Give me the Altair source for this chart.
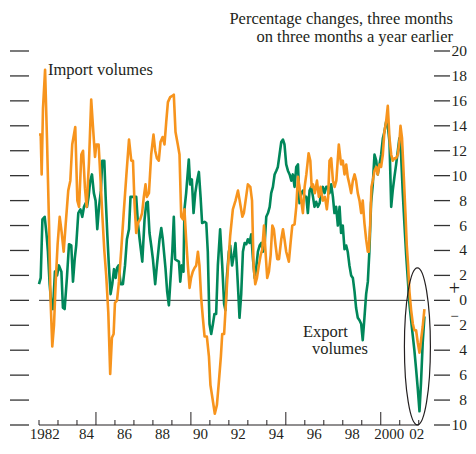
import altair as alt
import pandas as pd

# ---------------- data ----------------
import_t = [
    1982.00, 1982.09, 1982.14, 1982.21, 1982.32, 1982.42, 1982.53, 1982.61, 1982.70, 1982.79, 1982.88, 1982.98,
    1983.09, 1983.19, 1983.30, 1983.40, 1983.54, 1983.65, 1983.75, 1983.91,
    1984.02, 1984.11, 1984.23, 1984.32, 1984.42, 1984.51, 1984.63, 1984.75, 1984.84, 1984.95,
    1985.02, 1985.14, 1985.23, 1985.33, 1985.44, 1985.54, 1985.65, 1985.75, 1985.84, 1985.93,
    1986.00, 1986.11, 1986.21, 1986.33, 1986.46, 1986.60, 1986.74, 1986.86, 1986.95,
    1987.03, 1987.12, 1987.21, 1987.33, 1987.43, 1987.52, 1987.61, 1987.68, 1987.79, 1987.91,
    1988.03, 1988.12, 1988.21, 1988.31, 1988.40, 1988.51, 1988.61, 1988.70, 1988.79, 1988.91,
    1989.02, 1989.10, 1989.19, 1989.31, 1989.40, 1989.49, 1989.58, 1989.66, 1989.75, 1989.84, 1989.93,
    1990.01, 1990.10, 1990.19, 1990.28, 1990.37, 1990.45, 1990.54, 1990.63, 1990.72, 1990.84, 1990.95,
    1991.03, 1991.16, 1991.26, 1991.37, 1991.47, 1991.58, 1991.65, 1991.75, 1991.86, 1991.96,
    1992.07, 1992.21, 1992.35, 1992.48, 1992.57, 1992.71, 1992.79,
    1993.00, 1993.13, 1993.22, 1993.30, 1993.39, 1993.48, 1993.58, 1993.67, 1993.76, 1993.85, 1993.93,
    1994.02, 1994.11, 1994.20, 1994.29, 1994.37, 1994.46, 1994.55, 1994.64, 1994.76, 1994.85, 1994.93,
    1995.02, 1995.16, 1995.25, 1995.34, 1995.46, 1995.55, 1995.64, 1995.72, 1995.81, 1995.90, 1995.99,
    1996.08, 1996.20, 1996.29, 1996.36, 1996.43, 1996.53, 1996.64, 1996.74, 1996.83, 1996.95,
    1997.06, 1997.16, 1997.23, 1997.30, 1997.39, 1997.48, 1997.57, 1997.66, 1997.79, 1997.91,
    1998.00, 1998.09, 1998.18, 1998.26, 1998.35, 1998.44, 1998.53, 1998.62, 1998.70, 1998.79, 1998.88, 1998.97,
    1999.05, 1999.14, 1999.23, 1999.32, 1999.37, 1999.44, 1999.51, 1999.58, 1999.67, 1999.76, 1999.84, 1999.93,
    2000.02, 2000.11, 2000.19, 2000.28, 2000.37, 2000.46, 2000.55, 2000.63, 2000.72, 2000.81, 2000.90, 2000.98,
    2001.04, 2001.12, 2001.19, 2001.30, 2001.37, 2001.44, 2001.51, 2001.60, 2001.69, 2001.77, 2001.86, 2001.95,
    2002.04, 2002.12, 2002.21, 2002.30,
]
import_v = [
    13.3, 13.3, 10.1, 15.4, 18.5, 13.0, 6.0, 0.0, -3.7, -2.0, 1.5, 4.5,
    6.7, 5.5, 3.9, 6.0, 8.8, 9.6, 12.5, 13.9,
    8.0, 7.5, 11.7, 12.0, 9.0, 7.5, 11.0, 16.1, 14.0, 11.5,
    12.5, 12.5, 10.0, 7.0, 4.0, 2.0, -1.0, -5.9, -3.0, -2.7,
    -0.2, 0.0, 1.5, 4.0, 7.0, 10.0, 12.9, 11.2, 11.2,
    7.8, 5.4, 6.2, 6.5, 7.0, 8.3, 9.3, 8.3, 8.6, 11.7,
    13.3, 12.0, 11.4, 11.2, 12.7, 13.1, 12.5, 14.3, 15.9, 16.3,
    16.4, 16.5, 13.5, 12.5, 11.7, 6.7, 6.5, 7.3, 4.9, 2.8, 1.0,
    1.8, 2.3, 2.6, 2.8, 3.9, 2.8, 0.2, -1.4, -2.9, -2.9, -4.5,
    -6.8, -8.1, -9.1, -8.4, -6.6, -4.5, -2.7, -2.7, 0.2, 2.8,
    5.2, 7.3, 8.0, 8.8, 8.0, 6.7, 7.0,
    9.3, 9.1, 8.0, 2.8, 1.3, 1.8, 2.8, 3.6, 4.1, 6.0, 3.9,
    1.8, 2.3, 3.6, 6.0, 5.7, 4.4, 3.3, 3.3, 4.9, 5.7, 4.9,
    3.9, 3.1, 4.6, 6.0, 6.1, 7.5, 9.9, 9.1, 8.0, 7.0, 9.1,
    10.1, 11.8, 11.2, 9.1, 9.3, 8.6, 9.6, 8.3, 9.1, 8.0,
    8.3, 7.3, 8.3, 11.2, 11.4, 9.6, 9.1, 9.6, 12.5, 10.9,
    11.2, 10.1, 10.9, 9.9, 9.3, 8.6, 9.6, 10.1, 9.6, 8.6, 8.0, 7.0,
    8.0, 6.2, 4.9, 3.9, 3.9, 6.0, 9.1, 9.6, 10.4, 10.7, 10.1, 10.9,
    10.7, 11.7, 13.5, 14.3, 15.6, 13.0, 11.7, 11.2, 11.4, 11.4, 11.7, 12.7,
    14.0, 13.0, 10.7, 7.0, 4.4, 2.8, 0.7, -0.8, -1.9, -2.4, -2.4, -3.4,
    -4.2, -3.2, -2.1, -0.7,
]

export_t = [
    1982.00, 1982.09, 1982.18, 1982.30, 1982.39, 1982.47, 1982.56, 1982.65, 1982.74, 1982.84, 1982.95,
    1983.05, 1983.18, 1983.26, 1983.35, 1983.47, 1983.58, 1983.70, 1983.79, 1983.88, 1983.96,
    1984.07, 1984.18, 1984.28, 1984.37, 1984.46, 1984.53, 1984.61, 1984.70, 1984.79, 1984.89, 1984.98,
    1985.07, 1985.16, 1985.26, 1985.33, 1985.44, 1985.51, 1985.60, 1985.68, 1985.77, 1985.86, 1985.95,
    1986.04, 1986.11, 1986.19, 1986.30, 1986.42, 1986.53, 1986.63, 1986.74, 1986.82, 1986.95,
    1987.12, 1987.21, 1987.30, 1987.44, 1987.56, 1987.65, 1987.73, 1987.82, 1987.91,
    1988.00, 1988.12, 1988.21, 1988.35, 1988.44, 1988.52, 1988.66, 1988.75, 1988.84, 1988.91,
    1989.02, 1989.10, 1989.17, 1989.26, 1989.37, 1989.44, 1989.52, 1989.61, 1989.66, 1989.75, 1989.89, 1989.96,
    1990.05, 1990.14, 1990.23, 1990.33, 1990.42, 1990.51, 1990.59, 1990.72, 1990.81, 1990.89, 1990.98,
    1991.07, 1991.16, 1991.24, 1991.33, 1991.42, 1991.54, 1991.65, 1991.75, 1991.82, 1991.89,
    1992.00, 1992.07, 1992.17, 1992.26, 1992.35, 1992.42, 1992.50, 1992.56, 1992.65, 1992.74, 1992.83, 1992.92,
    1993.00, 1993.09, 1993.18, 1993.27, 1993.36, 1993.44, 1993.53, 1993.62, 1993.71, 1993.79, 1993.88, 1993.97,
    1994.06, 1994.15, 1994.23, 1994.32, 1994.41, 1994.50, 1994.58, 1994.67, 1994.76, 1994.85, 1994.93,
    1995.02, 1995.11, 1995.20, 1995.29, 1995.37, 1995.46, 1995.55, 1995.64, 1995.72, 1995.81, 1995.90, 1995.99,
    1996.08, 1996.16, 1996.25, 1996.34, 1996.43, 1996.51, 1996.60, 1996.69, 1996.78, 1996.86, 1996.95,
    1997.04, 1997.13, 1997.22, 1997.30, 1997.39, 1997.48, 1997.56, 1997.65, 1997.74, 1997.83, 1997.91,
    1998.00, 1998.09, 1998.18, 1998.26, 1998.35, 1998.44, 1998.53, 1998.62, 1998.70, 1998.79, 1998.88, 1998.97,
    1999.05, 1999.14, 1999.23, 1999.32, 1999.40, 1999.49, 1999.58, 1999.67, 1999.76, 1999.84, 1999.93,
    2000.02, 2000.11, 2000.19, 2000.28, 2000.37, 2000.46, 2000.55, 2000.63, 2000.72, 2000.81, 2000.90, 2000.98,
    2001.07, 2001.16, 2001.25, 2001.34, 2001.42, 2001.51, 2001.60, 2001.69, 2001.77, 2001.86, 2001.95,
    2002.04, 2002.12, 2002.21, 2002.30,
]
export_v = [
    1.3, 1.8, 6.5, 6.7, 5.4, 3.9, 1.3, -0.3, -0.7, 2.3, 2.0,
    2.8, 2.3, -0.6, -0.7, 1.8, 4.5, 4.4, 1.5, 3.3, 4.4,
    7.0, 7.3, 6.7, 7.5, 7.8, 7.5, 8.3, 9.6, 10.1, 8.6, 8.0,
    5.7, 7.5, 8.8, 11.2, 11.2, 8.3, 5.2, 2.8, 0.5, 1.3, 2.5,
    1.8, 2.6, 2.8, 1.3, 1.3, 2.8, 4.9, 5.7, 8.3, 8.3,
    8.3, 6.2, 4.9, 3.1, 6.5, 7.8, 7.9, 5.4, 4.4,
    3.3, 1.3, 2.8, 4.9, 5.8, 4.9, 2.6, 0.7, -0.4, 1.3,
    3.9, 6.7, 3.3, 3.2, 3.1, 1.5, 2.8, 2.3, 7.3, 8.6, 11.3, 9.3,
    9.7, 7.0, 8.6, 9.6, 10.3, 8.3, 6.2, 6.3, 6.2, 3.9, -1.9,
    -2.7, -1.9, -1.1, -1.1, 2.8, 5.7, 2.8, -0.3, -0.8, 1.8,
    3.9, 4.4, 2.8, 3.6, 4.6, 2.8, 0.5, -1.4, 0.5, 3.9, 4.6, 4.5,
    4.9, 4.6, 5.3, 3.3, 1.8, 2.6, 3.9, 4.4, 4.6, 3.9, 4.4, 6.7,
    7.0, 7.5, 8.6, 9.1, 10.1, 10.4, 10.7, 11.7, 12.7, 12.9, 12.5,
    10.9, 10.4, 10.1, 9.6, 10.1, 9.1, 10.7, 10.9, 7.8, 8.6, 8.8, 8.3,
    8.3, 7.0, 8.8, 9.1, 8.3, 7.5, 7.9, 7.5, 7.8, 8.6, 9.1,
    8.6, 9.1, 9.1, 8.6, 9.3, 8.3, 7.0, 7.5, 6.0, 7.5, 5.4,
    6.0, 4.1, 4.4, 3.9, 2.8, 2.0, 1.8, 0.7, -0.6, -1.4, -1.6, -1.9,
    -3.2, -1.4, 0.5, 1.5, 3.9, 7.8, 9.3, 11.7, 11.2, 10.1, 10.9,
    11.7, 13.0, 13.5, 14.3, 14.0, 12.7, 7.5, 8.8, 9.9, 10.9, 12.0, 13.0,
    11.7, 8.6, 6.0, 3.6, 1.8, -0.3, -1.6, -2.9, -4.0, -5.5, -7.1,
    -8.9, -6.6, -3.4, -1.3,
]

y_ticks = list(range(-10, 21, 2))
year_ticks = list(range(1982, 2003))
major_years = [1985, 1990, 1995, 2000]
x_label_pos = [1982.3, 1984.5, 1986.5, 1988.5, 1990.5, 1992.5, 1994.5, 1996.5, 1998.5, 2000.45, 2001.9]
x_label_text = ["1982", "84", "86", "88", "90", "92", "94", "96", "98", "2000", "02"]

subtitle = ["Percentage changes, three months", "on three months a year earlier"]

# ---------------- styling ----------------
W, H = 386, 374
ORANGE = "#f7941d"
GREEN = "#00875a"
INK = "#231f20"
FONT = "Liberation Serif"

xs = alt.Scale(domain=[1982, 2002.33], nice=False, zero=False)
ys = alt.Scale(domain=[-10, 20], nice=False, zero=False)

imp = pd.DataFrame({"year": import_t, "value": import_v})
exp_ = pd.DataFrame({"year": export_t, "value": export_v})
ticks = pd.DataFrame({"v": y_ticks, "label": [str(abs(v)) for v in y_ticks]})
years = pd.DataFrame({"year": year_ticks})
years_minor = years[~years["year"].isin(major_years)]
years_major = pd.DataFrame({"year": major_years})
xlab = pd.DataFrame({"pos": x_label_pos, "text": x_label_text})


def one(**kw):
    return alt.Data(values=[kw if kw else {"k": 0}])


X = lambda f: alt.X(f, scale=xs, axis=None)
Y = lambda f: alt.Y(f, scale=ys, axis=None)

green_line = alt.Chart(exp_).mark_line(color=GREEN, strokeWidth=2.6, strokeJoin="round").encode(
    x=X("year:Q"), y=Y("value:Q"))
orange_line = alt.Chart(imp).mark_line(color=ORANGE, strokeWidth=2.6, strokeJoin="round").encode(
    x=X("year:Q"), y=Y("value:Q"))

zero_line = alt.Chart(one(v=0)).mark_rule(color="#333333", strokeWidth=1).encode(
    y=Y("v:Q"), x=alt.value(0), x2=alt.value(W))

left_stubs = alt.Chart(ticks).mark_rule(color="#333333", strokeWidth=1.3).encode(
    y=Y("v:Q"), x=alt.value(-29), x2=alt.value(-10))
right_stubs = alt.Chart(ticks).mark_rule(color="#333333", strokeWidth=1.3).encode(
    y=Y("v:Q"), x=alt.value(395), x2=alt.value(411))
right_labels = alt.Chart(ticks).mark_text(
    align="right", baseline="middle", font=FONT, fontSize=15.5, color=INK).encode(
    y=Y("v:Q"), x=alt.value(428), text="label:N")

axis_line = alt.Chart(one(a=1982, b=2002)).mark_rule(color=INK, strokeWidth=1.2).encode(
    x=X("a:Q"), x2="b:Q", y=alt.value(H))
minor_ticks = alt.Chart(years_minor).mark_rule(color=INK, strokeWidth=1).encode(
    x=X("year:Q"), y=alt.value(H - 5), y2=alt.value(H))
major_ticks = alt.Chart(years_major).mark_rule(color=INK, strokeWidth=1).encode(
    x=X("year:Q"), y=alt.value(H - 13), y2=alt.value(H))
x_labels = alt.Chart(xlab).mark_text(
    align="center", baseline="alphabetic", font=FONT, fontSize=15, color=INK).encode(
    x=X("pos:Q"), y=alt.value(H + 14), text="text:N")


def label(txt, x, y, size=16.5, align="left", baseline="alphabetic"):
    return alt.Chart(one()).mark_text(
        align=align, baseline=baseline, font=FONT, fontSize=size, color=INK).encode(
        x=alt.value(x), y=alt.value(y), text=alt.value(txt))


sub1 = label(subtitle[0], 414, -27, size=16.5, align="right")
sub2 = label(subtitle[1], 414, -9, size=16.5, align="right")
imp_lab = label("Import volumes", 9, 24)
exp_lab1 = label("Export", 264, 285.5)
exp_lab2 = label("volumes", 273, 302.5)
plus = label("+", 415.5, 238, size=20, align="center", baseline="middle")
minus = label("\u2212", 415.5, 264.5, size=15, align="center", baseline="middle")

ell_path = "M 0.1656,0 A 0.1656,1 0 1,1 -0.1656,0 A 0.1656,1 0 1,1 0.1656,0 Z"
ellipse = alt.Chart(one(x=2001.93, y=-3.7)).mark_point(
    shape=ell_path, size=24649, filled=False, stroke=INK, strokeWidth=1.2, opacity=1).encode(
    x=X("x:Q"), y=Y("y:Q"))

chart = alt.layer(
    zero_line, left_stubs, right_stubs, right_labels,
    axis_line, minor_ticks, major_ticks, x_labels,
    green_line, orange_line, ellipse,
    sub1, sub2, imp_lab, exp_lab1, exp_lab2, plus, minus,
).properties(
    width=W, height=H,
    autosize=alt.AutoSizeParams(type="none"),
    padding={"left": 31, "top": 43, "right": 43, "bottom": 18},
).configure_view(stroke=None)

chart.save("out.html", embed_options={"renderer": "svg", "actions": False})
